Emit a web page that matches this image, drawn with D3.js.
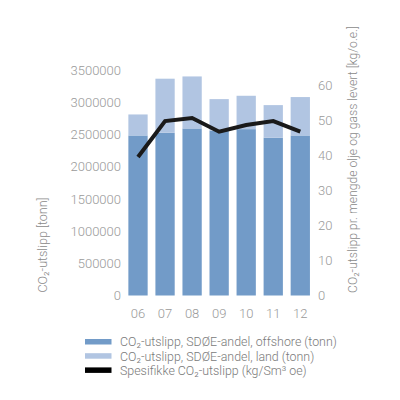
<!DOCTYPE html>
<html><head><meta charset="utf-8">
<script src="https://cdn.jsdelivr.net/npm/d3@7"></script>
<style>body{margin:0;background:#fff}svg{display:block}</style>
</head><body>
<svg id="c" width="400" height="400"></svg>
<script>
const years = ["06","07","08","09","10","11","12"];
const offshore = [2484000, 2526000, 2593000, 2560000, 2582000, 2449000, 2484000];
const land = [326000, 839000, 807000, 488000, 518000, 506000, 596000];
const specific = [39.5, 49.7, 50.6, 46.7, 48.6, 49.7, 46.7];
const leftTicks = [0,500000,1000000,1500000,2000000,2500000,3000000,3500000];
const rightTicks = [0,10,20,30,40,50,60];
const legendLabels = ["CO₂-utslipp, SDØE-andel, offshore (tonn)","CO₂-utslipp, SDØE-andel, land (tonn)","Spesifikke CO₂-utslipp (kg/Sm³ oe)"];
const colors = ["#729bc8","#b1c5e2","#000000"];

const svg = d3.select("#c");
const font = "Roboto, sans-serif";
const x = d3.scaleBand().domain(years).range([124.5, 313.8]).paddingInner(0.287).paddingOuter(0.143);
const y = d3.scaleLinear().domain([0,3500000]).range([295.5,70]);
const y2 = d3.scaleLinear().domain([0,60]).range([295.5,85]);

const g = svg.append("g");
years.forEach((yr,i)=>{
  g.append("rect").attr("x",x(yr)).attr("width",x.bandwidth())
    .attr("y",y(offshore[i])).attr("height",y(0)-y(offshore[i])).attr("fill",colors[0]);
  g.append("rect").attr("x",x(yr)).attr("width",x.bandwidth())
    .attr("y",y(offshore[i]+land[i])).attr("height",y(offshore[i])-y(offshore[i]+land[i])).attr("fill",colors[1]);
});

const line = d3.line().x((d,i)=>x(years[i])+x.bandwidth()/2).y(d=>y2(d));
svg.append("path").datum(specific).attr("d",line).attr("fill","none")
  .attr("stroke","#1a1a1a").attr("stroke-width",4).attr("stroke-linejoin","miter");

const tickColor = "#9a9a9a";
const la = d3.axisLeft(y).tickValues(leftTicks).tickSize(0).tickPadding(0).tickFormat(d3.format("d"));
const lg = svg.append("g").attr("transform","translate(121,0)").call(la);
const ra = d3.axisRight(y2).tickValues(rightTicks).tickSize(0).tickPadding(0);
const rg = svg.append("g").attr("transform","translate(318,0)").call(ra);
const xa = d3.axisBottom(x).tickSize(0).tickPadding(0);
const xg = svg.append("g").attr("transform","translate(0,309)").call(xa);
[lg,rg,xg].forEach(a=>{
  a.select(".domain").remove();
  a.selectAll("text").attr("fill",tickColor).style("font-family",font).style("font-size","13px").style("font-weight","300");
});
xg.selectAll("text").attr("dy","0.71em");

svg.append("text").attr("transform","translate(47,245) rotate(-90)").attr("text-anchor","middle")
  .attr("fill","#8a8a8a").style("font-family",font).style("font-size","12.5px").style("font-weight","300")
  .text("CO₂-utslipp [tonn]");
svg.append("text").attr("transform","translate(357,159.5) rotate(-90)").attr("text-anchor","middle")
  .attr("fill","#8a8a8a").style("font-family",font).style("font-size","12.2px").style("font-weight","300")
  .text("CO₂-utslipp pr. mengde olje og gass levert [kg/o.e.]");

const leg = svg.append("g");
legendLabels.forEach((l,i)=>{
  leg.append("rect").attr("x",85).attr("y",339+i*14.2).attr("width",26.5).attr("height",5.5).attr("fill",colors[i]);
  leg.append("text").attr("x",120).attr("y",342+i*14.2).attr("dy","0.35em")
    .attr("fill","#7a7a7a").style("font-family",font).style("font-size","12.4px").style("font-weight","300").text(l);
});
</script>
</body></html>
